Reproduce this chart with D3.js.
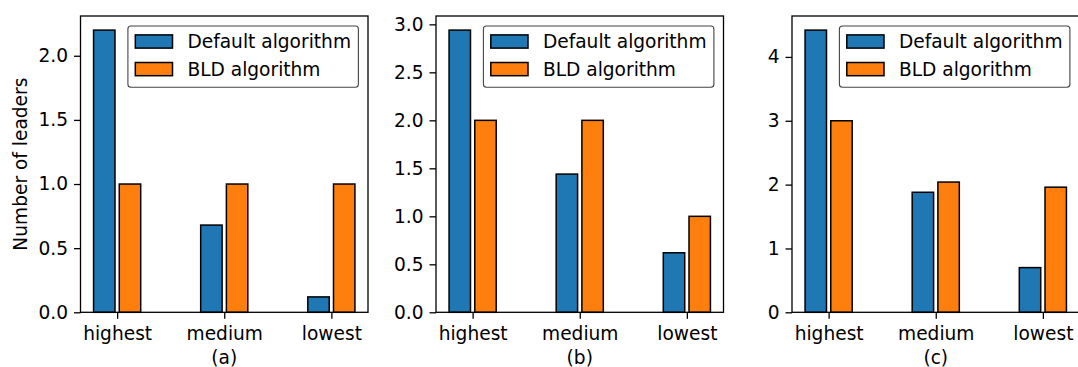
<!DOCTYPE html>
<html>
<head>
    <meta charset="utf-8">
    <title>Number of leaders</title>
    <script src="https://d3js.org/d3.v7.min.js"></script>
    <style>
        body { margin: 0; background: white; }
        svg { display: block; }
        text { font-family: "DejaVu Sans", sans-serif; fill: black; }
    </style>
</head>
<body>
    <svg id="chart"></svg>
    <script>
        const categories = ["highest", "medium", "lowest"];
        const seriesNames = ["Default algorithm", "BLD algorithm"];
        const seriesColors = ["#1f77b4", "#ff7f0e"];

        const defaultA = [2.2, 0.68, 0.12];
        const bldA = [1, 1, 1];
        const defaultB = [2.94, 1.44, 0.62];
        const bldB = [2, 2, 1];
        const defaultC = [4.42, 1.88, 0.70];
        const bldC = [3, 2.04, 1.96];

        const ticksA = [0, 0.5, 1.0, 1.5, 2.0];
        const ticksB = [0, 0.5, 1.0, 1.5, 2.0, 2.5, 3.0];
        const ticksC = [0, 1, 2, 3, 4];

        const panels = [
            { label: "(a)", series: [defaultA, bldA], ticks: ticksA, fmt: ".1f", left: 80.5, ylabel: "Number of leaders" },
            { label: "(b)", series: [defaultB, bldB], ticks: ticksB, fmt: ".1f", left: 436 },
            { label: "(c)", series: [defaultC, bldC], ticks: ticksC, fmt: "d", left: 792 }
        ];

        const W = 1078, H = 367, fs = 18.6;
        const plotTop = 16, plotBottom = 312.3, pw = 287.5;
        const barW = 0.2, gap = 0.02;

        const svg = d3.select("#chart").attr("width", W).attr("height", H);

        panels.forEach(p => {
            const g = svg.append("g").attr("transform", `translate(${p.left},0)`);
            const ymax = d3.max(p.series.flat()) * 1.05;
            const x = d3.scaleLinear().domain([-0.22 - 0.122, 2.22 + 0.122]).range([0, pw]);
            const y = d3.scaleLinear().domain([0, ymax]).range([plotBottom, plotTop]);

            // bars
            p.series.forEach((vals, s) => {
                g.selectAll("rect.s" + s).data(vals).enter()
                    .append("rect")
                    .attr("class", "s" + s)
                    .attr("x", (d, i) => s === 0 ? x(i - gap - barW) : x(i + gap))
                    .attr("width", x(barW) - x(0))
                    .attr("y", d => y(d))
                    .attr("height", d => y(0) - y(d))
                    .attr("fill", seriesColors[s])
                    .attr("stroke", "black")
                    .attr("stroke-width", 1.5);
            });

            // axes
            const yAxis = d3.axisLeft(y).tickValues(p.ticks).tickFormat(d3.format(p.fmt))
                .tickSize(6.5).tickPadding(6);
            const ya = g.append("g").attr("transform", `translate(${x.range()[0]},0)`).call(yAxis);
            const xAxis = d3.axisBottom(x).tickValues([0, 1, 2]).tickFormat(i => categories[i])
                .tickSize(6.5).tickPadding(8);
            const xa = g.append("g").attr("transform", `translate(0,${plotBottom})`).call(xAxis);
            [ya, xa].forEach(a => {
                a.select(".domain").remove();
                a.selectAll("line").attr("stroke", "black").attr("stroke-width", 1.3);
                a.selectAll("text").attr("font-size", fs).attr("font-family", "DejaVu Sans").attr("fill", "black");
            });

            // frame
            g.append("rect")
                .attr("x", 0).attr("y", plotTop)
                .attr("width", pw).attr("height", plotBottom - plotTop)
                .attr("fill", "none").attr("stroke", "black").attr("stroke-width", 1.3);

            // panel label
            g.append("text")
                .attr("x", pw / 2).attr("y", 364)
                .attr("text-anchor", "middle")
                .attr("font-size", fs)
                .text(p.label);

            if (p.ylabel) {
                g.append("text")
                    .attr("transform", `translate(${27 - p.left},${(plotTop + plotBottom) / 2}) rotate(-90)`)
                    .attr("text-anchor", "middle")
                    .attr("font-size", fs)
                    .text(p.ylabel);
            }

            // legend
            const lg = g.append("g");
            const frame = lg.append("rect");
            let maxLen = 0;
            seriesNames.forEach((name, s) => {
                const cy = 41.5 + s * 27.6;
                const t = lg.append("text")
                    .attr("y", cy + 6.8)
                    .attr("font-size", fs)
                    .text(name);
                maxLen = Math.max(maxLen, t.node().getComputedTextLength());
                lg.append("rect")
                    .attr("class", "handle")
                    .attr("y", cy - 6.6).attr("height", 13.2)
                    .attr("width", 37.2)
                    .attr("fill", seriesColors[s])
                    .attr("stroke", "black").attr("stroke-width", 1.5);
            });
            const lw = 7.4 + 37.2 + 14.9 + maxLen + 7.4;
            const lx = pw - 9.6 - lw;
            frame.attr("x", lx).attr("y", 26).attr("width", lw).attr("height", 61.3)
                .attr("rx", 3).attr("fill", "white").attr("fill-opacity", 0.8)
                .attr("stroke", "#444").attr("stroke-width", 1.1);
            lg.selectAll("rect.handle").attr("x", lx + 7.4);
            lg.selectAll("text").attr("x", lx + 7.4 + 37.2 + 14.9);
        });
    </script>
</body>
</html>
